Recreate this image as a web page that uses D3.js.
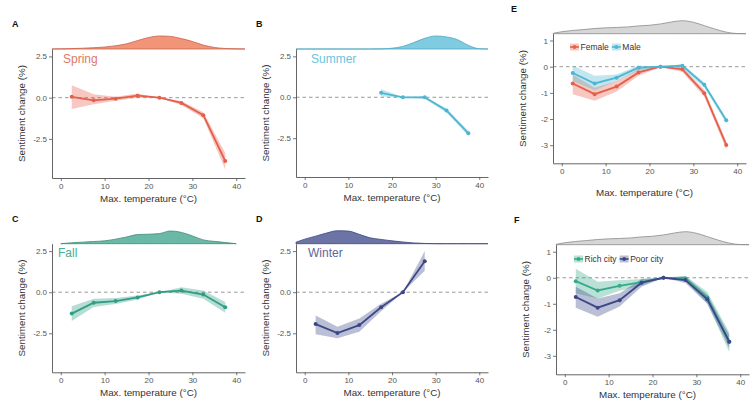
<!DOCTYPE html>
<html>
<head>
<meta charset="utf-8">
<script src="https://cdn.jsdelivr.net/npm/d3@7"></script>
<style>
  body { margin: 0; background: #fff; }
  svg { display: block; font-family: "Liberation Sans", Arial, sans-serif; }
</style>
</head>
<body>
<div id="chart"></div>
<script>
// temperature bins (bin centres, deg C)
const tempBins = [2.5, 7.5, 12.5, 17.5, 22.5, 27.5, 32.5, 37.5];
const summerBins = [17.5, 22.5, 27.5, 32.5, 37.5];
const winterBins = [2.5, 7.5, 12.5, 17.5, 22.5, 27.5];

// sentiment change (%) with confidence band
const springMean = [0.05, -0.16, -0.06, 0.12, 0, -0.32, -1.06, -3.84];
const springLow  = [-0.68, -0.4, -0.18, 0.0, 0, -0.45, -1.25, -4.35];
const springHigh = [0.76, 0.2, 0.06, 0.25, 0, -0.2, -0.88, -3.35];

const summerMean = [0.27, 0, 0, -0.8, -2.2];
const summerLow  = [0.05, 0, -0.1, -0.95, -2.35];
const summerHigh = [0.5, 0, 0.06, -0.68, -2.05];

const fallMean = [-1.3, -0.64, -0.54, -0.32, 0, 0.1, -0.14, -0.92];
const fallLow  = [-1.75, -0.9, -0.72, -0.45, 0, -0.1, -0.4, -1.25];
const fallHigh = [-0.85, -0.4, -0.35, -0.2, 0, 0.3, 0.1, -0.6];

const winterMean = [-1.94, -2.48, -2.0, -0.92, 0, 1.88];
const winterLow  = [-2.55, -2.8, -2.4, -1.15, 0, 1.3];
const winterHigh = [-1.42, -2.1, -1.6, -0.7, 0, 2.5];

const femaleMean = [-0.64, -1.05, -0.76, -0.22, 0, -0.1, -1.01, -2.99];
const femaleLow  = [-1.05, -1.3, -0.95, -0.35, 0, -0.2, -1.15, -3.15];
const femaleHigh = [-0.3, -0.8, -0.55, -0.1, 0, 0.0, -0.88, -2.85];

const maleMean = [-0.24, -0.64, -0.42, -0.04, 0, 0.04, -0.69, -2.05];
const maleLow  = [-0.55, -0.9, -0.55, -0.15, 0, -0.05, -0.8, -2.15];
const maleHigh = [0.05, -0.35, -0.3, 0.05, 0, 0.1, -0.6, -1.95];

const richMean = [-0.13, -0.49, -0.31, -0.17, 0, -0.03, -0.76, -2.46];
const richLow  = [-0.6, -0.8, -0.5, -0.3, 0, -0.12, -1.0, -2.85];
const richHigh = [0.35, -0.15, -0.1, -0.05, 0, 0.08, -0.55, -2.1];

const poorMean = [-0.74, -1.15, -0.86, -0.19, 0, -0.09, -0.83, -2.46];
const poorLow  = [-1.15, -1.5, -1.1, -0.35, 0, -0.2, -1.0, -2.7];
const poorHigh = [-0.35, -0.8, -0.6, -0.05, 0, 0.05, -0.65, -2.2];

// marginal temperature densities (relative to peak)
const densityTemps = [-2, 0, 2.5, 5, 7.5, 10, 12.5, 15, 17.5, 20, 22.5, 25, 27.5, 30, 32.5, 35, 37.5, 40, 42];
const springDensity = [0, 0.01, 0.03, 0.06, 0.1, 0.15, 0.25, 0.4, 0.65, 0.88, 1.0, 0.97, 0.8, 0.58, 0.3, 0.12, 0.04, 0.01, 0];
const summerDensity = [0, 0, 0, 0, 0, 0, 0, 0, 0.01, 0.06, 0.2, 0.5, 0.82, 1.0, 0.93, 0.72, 0.28, 0.02, 0];
const fallDensity   = [null, 0, 0.07, 0.12, 0.17, 0.22, 0.35, 0.52, 0.7, 0.73, 0.78, 0.98, 0.87, 0.6, 0.29, 0.18, 0.09, 0, null];
const winterDensity = [0.12, 0.35, 0.58, 0.82, 1.0, 0.97, 0.72, 0.45, 0.33, 0.22, 0.13, 0.06, 0.02, 0, 0, 0, 0, 0, 0];
const allDensity    = [0.03, 0.15, 0.25, 0.32, 0.4, 0.45, 0.48, 0.52, 0.6, 0.65, 0.75, 0.9, 1.0, 0.88, 0.62, 0.35, 0.12, 0.01, 0];

// axis ticks
const xTicks = [0, 10, 20, 30, 40];
const seasonYTicks = [2.5, 0, -2.5];
const seasonYLabels = ["2.5", "0.0", "-2.5"];
const groupYTicks = [1, 0, -1, -2, -3];
const groupYLabels = ["1", "0", "-1", "-2", "-3"];

const width = 750, height = 420;
const svg = d3.select('#chart').append('svg')
    .attr('width', width)
    .attr('height', height);

const red = '#e4604c', blue = '#4db6d2', green = '#2f9e84', navy = '#3b4788', rich = '#36a98a';

function zip(bins, mean, low, high) {
    return bins.map((t, i) => ({t: t, m: mean[i], lo: low[i], hi: high[i]}));
}

const panels = [
    {letter: 'A', left: 52, right: 245, top: 49, bottom: 178, yDomain: [-4.87, 2.95], yTicks: seasonYTicks, yLabels: seasonYLabels,
     letterPos: [12, 27], xTitleDy: 24, label: 'Spring', labelPos: [63, 63], labelColor: '#e07a66',
     density: springDensity, densityFill: '#f29478', densityStroke: '#c8624d',
     series: [{data: zip(tempBins, springMean, springLow, springHigh), color: red}]},
    {letter: 'B', left: 296, right: 488, top: 49, bottom: 177, yDomain: [-4.87, 2.95], yTicks: seasonYTicks, yLabels: seasonYLabels,
     letterPos: [256, 27], xTitleDy: 24, label: 'Summer', labelPos: [311, 63], labelColor: '#6cc3da',
     density: summerDensity, densityFill: '#7fcbe0', densityStroke: '#4fa6bf',
     series: [{data: zip(summerBins, summerMean, summerLow, summerHigh), color: blue}]},
    {letter: 'C', left: 52, right: 245, top: 243.7, bottom: 372.3, yDomain: [-4.87, 2.95], yTicks: seasonYTicks, yLabels: seasonYLabels,
     letterPos: [12, 222], xTitleDy: 24, label: 'Fall', labelPos: [58, 257], labelColor: '#47ad96',
     density: fallDensity, densityFill: '#6ab9a6', densityStroke: '#3e8a78',
     series: [{data: zip(tempBins, fallMean, fallLow, fallHigh), color: green}]},
    {letter: 'D', left: 296, right: 488, top: 243.7, bottom: 372.3, yDomain: [-4.87, 2.95], yTicks: seasonYTicks, yLabels: seasonYLabels,
     letterPos: [256, 222], xTitleDy: 24, label: 'Winter', labelPos: [308, 257], labelColor: '#5e6699',
     density: winterDensity, densityFill: '#6c74a5', densityStroke: '#3f4780',
     series: [{data: zip(winterBins, winterMean, winterLow, winterHigh), color: navy}]},
    {letter: 'E', left: 553, right: 746, top: 33.7, bottom: 163.3, yDomain: [-3.69, 1.26], yTicks: groupYTicks, yLabels: groupYLabels,
     letterPos: [511, 12], xTitleDy: 33,
     density: allDensity, densityFill: '#d6d6d6', densityStroke: '#8a8a8a',
     legendPos: [570, 47], legendGap: 40,
     series: [{name: 'Female', data: zip(tempBins, femaleMean, femaleLow, femaleHigh), color: red},
              {name: 'Male', data: zip(tempBins, maleMean, maleLow, maleHigh), color: blue}]},
    {letter: 'F', left: 556, right: 749, top: 244.7, bottom: 374.3, yDomain: [-3.71, 1.27], yTicks: groupYTicks, yLabels: groupYLabels,
     letterPos: [514, 223], xTitleDy: 24,
     density: allDensity, densityFill: '#d6d6d6', densityStroke: '#8a8a8a',
     legendPos: [574, 259], legendGap: 45,
     series: [{name: 'Rich city', data: zip(tempBins, richMean, richLow, richHigh), color: rich},
              {name: 'Poor city', data: zip(tempBins, poorMean, poorLow, poorHigh), color: navy}]}
];

panels.forEach(p => {
    const g = svg.append('g');

    const xScale = d3.scaleLinear().domain([-2, 42]).range([p.left, p.right]);
    const yScale = d3.scaleLinear().domain(p.yDomain).range([p.bottom, p.top]);
    const densScale = d3.scaleLinear().domain([0, 1]).range([p.top, p.top - 13]);

    // marginal density on top of the panel
    const dens = densityTemps.map((t, i) => ({t: t, v: p.density[i]}));
    const densArea = d3.area()
        .defined(d => d.v != null)
        .x(d => xScale(d.t))
        .y0(p.top)
        .y1(d => densScale(d.v))
        .curve(d3.curveMonotoneX);
    g.append('path')
        .attr('d', densArea(dens))
        .attr('fill', p.densityFill)
        .attr('stroke', p.densityStroke)
        .attr('stroke-width', 0.8);

    // zero reference
    g.append('line')
        .attr('x1', p.left).attr('x2', p.right)
        .attr('y1', yScale(0)).attr('y2', yScale(0))
        .attr('stroke', '#8c8c8c')
        .attr('stroke-width', 0.9)
        .attr('stroke-dasharray', '3.5,3');

    const band = d3.area()
        .x(d => xScale(d.t))
        .y0(d => yScale(d.lo))
        .y1(d => yScale(d.hi));
    const line = d3.line()
        .x(d => xScale(d.t))
        .y(d => yScale(d.m));

    p.series.forEach(s => {
        g.append('path')
            .attr('d', band(s.data))
            .attr('fill', s.color)
            .attr('fill-opacity', 0.35);
    });
    p.series.forEach(s => {
        g.append('path')
            .attr('d', line(s.data))
            .attr('fill', 'none')
            .attr('stroke', s.color)
            .attr('stroke-width', 1.8);
        g.selectAll(null)
            .data(s.data)
            .enter()
            .append('circle')
            .attr('cx', d => xScale(d.t))
            .attr('cy', d => yScale(d.m))
            .attr('r', 2)
            .attr('fill', s.color);
    });

    // axes
    const gX = g.append('g')
        .attr('transform', `translate(0, ${p.bottom})`)
        .call(d3.axisBottom(xScale).tickValues(xTicks).tickSize(3).tickSizeOuter(0).tickPadding(2));
    const gY = g.append('g')
        .attr('transform', `translate(${p.left}, 0)`)
        .call(d3.axisLeft(yScale).tickValues(p.yTicks).tickSize(3).tickSizeOuter(0).tickPadding(2)
            .tickFormat((d, i) => p.yLabels[i]));
    [gX, gY].forEach(a => {
        a.select('.domain').attr('stroke', '#555').attr('stroke-width', 0.9);
        a.selectAll('.tick line').attr('stroke', '#555').attr('stroke-width', 0.8);
        a.selectAll('.tick text')
            .attr('fill', '#555')
            .style('font-size', '8px')
            .style('font-family', '"Liberation Sans", Arial, sans-serif');
    });

    g.append('text')
        .attr('x', (p.left + p.right) / 2 + (p.letter === 'E' || p.letter === 'F' ? -5 : 0))
        .attr('y', p.bottom + p.xTitleDy)
        .attr('text-anchor', 'middle')
        .attr('fill', '#333')
        .style('font-size', '9.8px')
        .text('Max. temperature (°C)');

    g.append('text')
        .attr('transform', `translate(${p.left - 27}, ${(p.top + p.bottom) / 2}) rotate(-90)`)
        .attr('text-anchor', 'middle')
        .attr('fill', '#333')
        .style('font-size', '9.8px')
        .text('Sentiment change (%)');

    g.append('text')
        .attr('x', p.letterPos[0]).attr('y', p.letterPos[1])
        .attr('fill', '#111')
        .style('font-size', '9px')
        .style('font-weight', 'bold')
        .text(p.letter);

    if (p.label) {
        g.append('text')
            .attr('x', p.labelPos[0]).attr('y', p.labelPos[1])
            .attr('fill', p.labelColor)
            .style('font-size', '12px')
            .text(p.label);
    }

    if (p.legendPos) {
        let lx = p.legendPos[0];
        const ly = p.legendPos[1];
        p.series.forEach(s => {
            const key = g.append('g').attr('transform', `translate(${lx}, ${ly})`);
            key.append('rect')
                .attr('x', 0).attr('y', -3.5).attr('width', 9).attr('height', 7)
                .attr('fill', s.color).attr('fill-opacity', 0.35);
            key.append('line')
                .attr('x1', 0).attr('x2', 9).attr('y1', 0).attr('y2', 0)
                .attr('stroke', s.color).attr('stroke-width', 1.6);
            key.append('circle')
                .attr('cx', 4.5).attr('cy', 0).attr('r', 1.9).attr('fill', s.color);
            const txt = key.append('text')
                .attr('x', 10.5).attr('y', 3)
                .attr('fill', '#333')
                .style('font-size', '8.5px')
                .text(s.name);
            lx += 10.5 + txt.node().getComputedTextLength() + 3;
        });
    }
});
</script>
</body>
</html>
